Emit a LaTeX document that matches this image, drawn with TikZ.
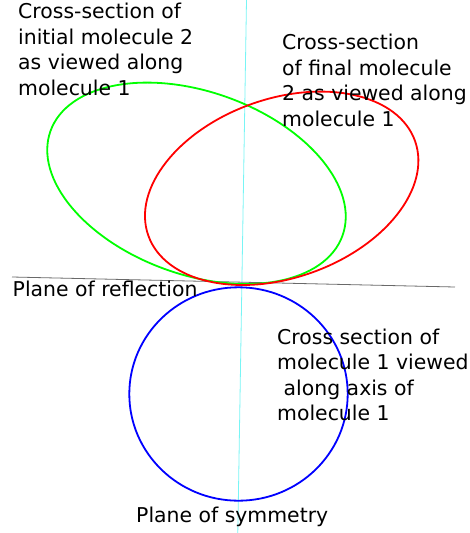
\documentclass[tikz,border=0pt]{standalone}
\usepackage{fontspec}
\setmainfont{DejaVu Sans}
\definecolor{symcyan}{RGB}{120,245,245}
\definecolor{planegray}{RGB}{105,105,105}

\begin{document}
\begin{tikzpicture}[x=1pt, y=-1pt,
      lbl/.style={anchor=base west, inner sep=0pt, align=left,
                  font=\fontsize{20.4}{25.4}\selectfont},
      section/.style={line width=1.8pt},
      plane/.style={line width=0.8pt}
    ]
      \useasboundingbox (0,0) rectangle (469,533);
      % centres of the cross-sections
      \coordinate (init) at (196.5,183.3);
      \coordinate (final) at (281.7,188.3);
      \coordinate (mol1) at (238.5,394);
      % the two planes
      \draw[plane, symcyan] (246.5,0) -- (237.8,533);
      \draw[plane, planegray] (12,277) -- (455,287);
      % cross-sections
      \draw[section, green, rotate around={-19.7:(init)}] (init) ellipse [x radius=155.1, y radius=91.4];
      \draw[section, red, rotate around={19.5:(final)}] (final) ellipse [x radius=141.5, y radius=89.5];
      \draw[section, blue] (mol1) ellipse [x radius=109.2, y radius=106.7];
      % labels (base = last line)
      \node[lbl] (initlbl) at (18,95) {Cross-section of\\initial molecule 2\\as viewed along\\molecule 1};
      \node[lbl] (finallbl) at (282,126) {Cross-section\\of final molecule\\2 as viewed along\\molecule 1};
      \node[lbl] (refllbl) at (12.5,296) {Plane of reflection};
      \node[lbl] (mol1lbl) at (277,420.5) {Cross section of\\molecule 1 viewed\\\hspace*{0.32em}along axis of\\molecule 1};
      \node[lbl] (symlbl) at (136,522.7) {Plane of symmetry};
    \end{tikzpicture}
\end{document}
